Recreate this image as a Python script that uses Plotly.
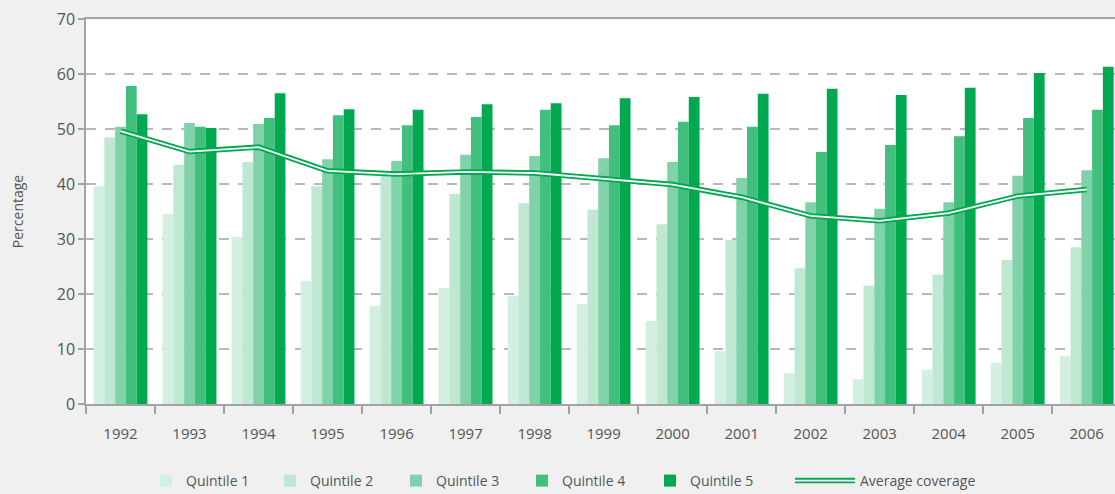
import plotly.graph_objects as go

years = ["1992", "1993", "1994", "1995", "1996", "1997", "1998", "1999",
         "2000", "2001", "2002", "2003", "2004", "2005", "2006"]

quintile_1 = [39.6, 34.5, 30.4, 22.4, 17.8, 21.1, 19.6, 18.2, 15.1, 9.6, 5.6, 4.5, 6.2, 7.5, 8.7]
quintile_2 = [48.5, 43.5, 44.0, 39.6, 41.6, 38.2, 36.5, 35.3, 32.7, 29.8, 24.7, 21.5, 23.5, 26.2, 28.5]
quintile_3 = [50.4, 51.1, 50.9, 44.5, 44.2, 45.3, 45.1, 44.7, 44.0, 41.1, 36.7, 35.5, 36.7, 41.5, 42.5]
quintile_4 = [57.8, 50.4, 52.0, 52.5, 50.7, 52.2, 53.5, 50.7, 51.3, 50.4, 45.8, 47.1, 48.7, 52.0, 53.5]
quintile_5 = [52.7, 50.2, 56.5, 53.6, 53.5, 54.5, 54.7, 55.6, 55.8, 56.4, 57.3, 56.2, 57.5, 60.2, 61.3]
average_coverage = [49.6, 45.9, 46.7, 42.4, 41.8, 42.2, 42.0, 41.0, 39.9, 37.6, 34.2, 33.3, 34.7, 37.8, 39.0]

series = [
    ("Quintile 1", quintile_1, "#d3efe0"),
    ("Quintile 2", quintile_2, "#bfe8d3"),
    ("Quintile 3", quintile_3, "#80d3a8"),
    ("Quintile 4", quintile_4, "#41bf7c"),
    ("Quintile 5", quintile_5, "#00a84f"),
]

FONT = "Open Sans"
TXT = "#555555"
AX = "#a3a3a3"

W, H = 1115, 494
ML, MR, MT, MB = 86, 0, 19, 90
PW = W - ML - MR
PH = H - MT - MB

# legend item left edges (px) for each entry
legend_left_px = [146, 270, 396, 522, 650, 790, 790]
legend_names = ["legend", "legend2", "legend3", "legend4", "legend5", "legend6", "legend7"]
legend_itemwidth = [30, 30, 30, 30, 30, 60, 60]
legend_y = (H - 481) / H  # container fraction

fig = go.Figure()
for i, (name, vals, col) in enumerate(series):
    fig.add_trace(go.Bar(x=years, y=vals, name=name, legend=legend_names[i],
                         marker=dict(color=col, line=dict(width=0))))

fig.add_trace(go.Scatter(x=years, y=average_coverage, name="Average coverage", mode="lines",
                         line=dict(color="#00a84f", width=5.5), legend=legend_names[5]))
fig.add_trace(go.Scatter(x=years, y=average_coverage, name=" ", mode="lines",
                         line=dict(color="#ffffff", width=1.8), legend=legend_names[6],
                         hoverinfo="skip"))

legends = {}
for lname, lpx, iw in zip(legend_names, legend_left_px, legend_itemwidth):
    legends[lname] = dict(orientation="h", x=(lpx - ML) / PW, xanchor="left",
                          y=legend_y, yref="container", yanchor="middle",
                          bgcolor="rgba(0,0,0,0)",
                          borderwidth=0, itemwidth=iw,
                          font=dict(family=FONT, size=14, color=TXT))

fig.update_layout(
    width=W, height=H,
    margin=dict(l=ML, r=MR, t=MT, b=MB),
    paper_bgcolor="#f0f0f0",
    plot_bgcolor="#ffffff",
    font=dict(family=FONT, size=14, color=TXT),
    barmode="group",
    bargap=0.22,
    bargroupgap=0,
    showlegend=True,
    **legends,
)

fig.update_xaxes(
    type="category", range=[-0.5, 14.41],
    showline=True, linecolor=AX, linewidth=1.5, mirror=True,
    ticks="outside", tickson="boundaries", ticklen=8, tickcolor=AX, tickwidth=1.5,
    ticklabelstandoff=15,
    showgrid=False, tickfont=dict(size=15, color=TXT),
)
fig.update_yaxes(
    range=[0, 70], tickvals=[0, 10, 20, 30, 40, 50, 60, 70],
    showline=True, linecolor=AX, linewidth=1.5, mirror=False,
    ticks="outside", ticklen=6, tickcolor=AX, tickwidth=1.5,
    showgrid=True, gridcolor="#b8b8b8", gridwidth=1.5, griddash="10px,9px",
    zeroline=False,
    title=dict(text="Percentage", font=dict(size=14, color=TXT), standoff=30),
    tickfont=dict(size=16, color=TXT),
)

fig.write_html("out.html", config={"displayModeBar": False},
               post_script="document.body.style.margin='0';document.body.style.padding='0';document.body.style.overflow='hidden';")
